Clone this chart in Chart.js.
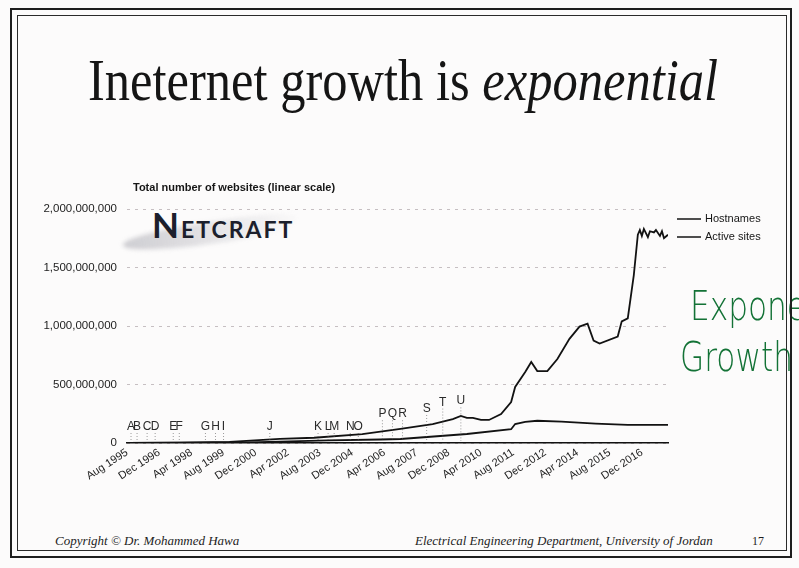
<!DOCTYPE html>
<html>
<head>
<meta charset="utf-8">
<title>Internet growth</title>
<script src="https://cdn.jsdelivr.net/npm/chart.js@4.4.1/dist/chart.umd.min.js"></script>
<style>
    html, body { margin: 0; padding: 0; }
    body {
        width: 799px; height: 568px; overflow: hidden; position: relative;
        background: #fcfbfb;
        font-family: "Liberation Sans", Arial, sans-serif;
    }
    .frame-outer { position: absolute; left: 10px; top: 8px; width: 778px; height: 546px; border: 2px solid #1e1e1e; z-index: 5; }
    .frame-inner { position: absolute; left: 17px; top: 15px; width: 768px; height: 534px; border: 1px solid #2a2a2a; z-index: 5; }
    #slideTitle {
        position: absolute; left: 88px; top: 50px; white-space: nowrap;
        font-family: "Liberation Serif", "DejaVu Serif", serif; font-size: 60px; line-height: 60px;
        color: #151515; transform-origin: 0 0;
    }
    #slideTitle i { font-style: italic; }
    .swoosh {
        position: absolute; left: 122px; top: 222px; width: 175px; height: 22px;
        background: linear-gradient(to right, rgba(150,150,160,0.45), rgba(205,205,210,0.05));
        border-radius: 50% 30% 50% 50%; transform: rotate(-8deg); filter: blur(2px);
    }
    .logo {
        position: absolute; left: 152px; top: 203px; font-family: Lato, "Liberation Sans", sans-serif;
        font-weight: bold; color: #1c1f2c; letter-spacing: 2px; white-space: nowrap;
    }
    .logo .big { font-size: 35px; }
    .logo .small { font-size: 23px; }
    #websitesChart { position: absolute; left: 0; top: 160px; z-index: 2; }
    .handwriting {
        position: absolute; font-family: "DejaVu Sans", sans-serif; font-weight: 200;
        color: #137236; font-size: 40px; white-space: nowrap; transform: scaleX(0.78); transform-origin: 0 0;
        z-index: 3;
    }
    .footer {
        position: absolute; top: 533px; font-family: "Liberation Serif", serif; font-style: italic;
        font-size: 13px; line-height: 16px; color: #1d1d1d; white-space: nowrap;
    }
</style>
</head>
<body>
<div class="frame-outer"></div>
<div class="frame-inner"></div>

<div id="slideTitle">Ineternet growth is <i>exponential</i></div>

<div class="swoosh"></div>
<div class="logo"><span class="big">N</span><span class="small">ETCRAFT</span></div>

<canvas id="websitesChart" width="799" height="323"></canvas>

<div class="handwriting" style="left:690px; top:283px;">Exponential</div>
<div class="handwriting" style="left:680px; top:334px;">Growth</div>

<div class="footer" style="left:55px;">Copyright © Dr. Mohammed Hawa</div>
<div class="footer" style="left:415px;">Electrical Engineering Department, University of Jordan</div>
<div class="footer" style="left:752px; font-style:normal; font-size:12px;">17</div>

<script>
// months counted from Aug 1995, values in millions
var hostMonths = [0, 26, 51, 76, 93, 117, 136, 152, 162, 166, 169, 172, 176, 180, 186, 191, 193, 198, 201, 204, 209, 214, 220, 225, 229, 232, 235, 244, 246, 249, 252, 254, 255, 256, 257, 259, 260, 262, 263, 265, 266, 267, 269];
var hostValues = [0, 2, 10, 35, 45, 75, 120, 162, 205, 231, 214, 214, 197, 197, 248, 350, 479, 607, 692, 615, 615, 718, 890, 995, 1020, 875, 850, 910, 1040, 1065, 1435, 1780, 1820, 1770, 1830, 1760, 1810, 1800, 1820, 1770, 1810, 1750, 1780];

var activeMonths = [0, 60, 76, 100, 126, 136, 169, 191, 193, 198, 204, 216, 233, 249, 269];
var activeValues = [0, 5, 12, 22, 30, 34, 77, 118, 162, 180, 190, 182, 165, 155, 155];

var tickMonths = [0, 16, 32, 48, 64, 80, 96, 112, 128, 144, 160, 176, 192, 208, 224, 240, 256];
var tickLabels = ['Aug 1995', 'Dec 1996', 'Apr 1998', 'Aug 1999', 'Dec 2000', 'Apr 2002', 'Aug 2003', 'Dec 2004', 'Apr 2006',
    'Aug 2007', 'Dec 2008', 'Apr 2010', 'Aug 2011', 'Dec 2012', 'Apr 2014', 'Aug 2015', 'Dec 2016'];

var yTicks = [0, 500, 1000, 1500, 2000];
var yTickLabels = ['0', '500,000,000', '1,000,000,000', '1,500,000,000', '2,000,000,000'];

var markerLetters = ['A', 'B', 'C', 'D', 'E', 'F', 'G', 'H', 'I', 'J', 'K', 'L', 'M', 'N', 'O', 'P', 'Q', 'R', 'S', 'T', 'U'];
var markerMonths = [2, 5, 10, 14, 23, 26, 39, 44, 48, 71, 95, 100, 103, 111, 115, 127, 132, 137, 149, 157, 166];
var markerLevels = [111, 111, 111, 111, 111, 111, 111, 111, 111, 111, 111, 111, 111, 111, 111, 220, 220, 220, 265, 320, 330];

var seriesNames = ['Hostnames', 'Active sites'];

// squeeze the slide heading into its box
var titleEl = document.getElementById('slideTitle');
titleEl.style.transform = 'scaleX(' + (630 / titleEl.offsetWidth) + ')';

function toPoints(months, values) {
    var pts = [];
    for (var i = 0; i < months.length; i++) {
        pts.push({x: months[i], y: values[i]});
    }
    return pts;
}

var chartExtras = {
    id: 'chartExtras',
    afterDatasetsDraw: function (chart) {
        var ctx = chart.ctx;
        var xs = chart.scales.x;
        var ys = chart.scales.y;
        var area = chart.chartArea;
        ctx.save();

        ctx.fillStyle = '#161616';
        ctx.font = 'bold 11px "Liberation Sans", Arial, sans-serif';
        ctx.textBaseline = 'middle';
        ctx.textAlign = 'left';
        ctx.fillText('Total number of websites (linear scale)', area.left + 6, area.top - 21);

        // event letters with their little dotted stems
        ctx.font = '12px "Liberation Sans", Arial, sans-serif';
        ctx.textAlign = 'center';
        ctx.textBaseline = 'alphabetic';
        for (var i = 0; i < markerLetters.length; i++) {
            var x = xs.getPixelForValue(markerMonths[i]);
            var y = ys.getPixelForValue(markerLevels[i]);
            ctx.fillStyle = '#2a2a2a';
            ctx.fillText(markerLetters[i], x, y);
            ctx.strokeStyle = 'rgba(90,90,90,0.6)';
            ctx.lineWidth = 1;
            ctx.setLineDash([1, 2]);
            ctx.beginPath();
            ctx.moveTo(x, y + 3);
            ctx.lineTo(x, area.bottom - 2);
            ctx.stroke();
        }
        ctx.setLineDash([]);

        // legend
        ctx.font = '11px "Liberation Sans", Arial, sans-serif';
        ctx.textAlign = 'left';
        ctx.textBaseline = 'middle';
        for (var j = 0; j < seriesNames.length; j++) {
            var ly = area.top + 10 + j * 18;
            ctx.strokeStyle = '#151515';
            ctx.lineWidth = 1.5;
            ctx.beginPath();
            ctx.moveTo(area.right + 9, ly);
            ctx.lineTo(area.right + 33, ly);
            ctx.stroke();
            ctx.fillStyle = '#151515';
            ctx.fillText(seriesNames[j], area.right + 37, ly);
        }
        ctx.restore();
    }
};

var ctx = document.getElementById('websitesChart');
var websitesChart = new Chart(ctx, {
    type: 'line',
    data: {
        datasets: [{
                label: seriesNames[0],
                data: toPoints(hostMonths, hostValues),
                borderColor: '#121212',
                borderWidth: 1.8,
                pointRadius: 0,
                tension: 0
            }, {
                label: seriesNames[1],
                data: toPoints(activeMonths, activeValues),
                borderColor: '#121212',
                borderWidth: 1.8,
                pointRadius: 0,
                tension: 0
            }]
    },
    options: {
        responsive: false,
        animation: false,
        layout: {padding: {top: 49, right: 131, left: 0, bottom: 0}},
        plugins: {
            legend: {display: false},
            tooltip: {enabled: false}
        },
        scales: {
            x: {
                type: 'linear',
                min: 0,
                max: 269,
                afterBuildTicks: function (scale) {
                    scale.ticks = tickMonths.map(function (v) { return {value: v}; });
                },
                afterFit: function (scale) { scale.height = 40; },
                grid: {display: false, drawTicks: false},
                border: {display: true, color: '#111', width: 1.6},
                ticks: {
                    autoSkip: false,
                    minRotation: 33,
                    maxRotation: 33,
                    padding: 3,
                    color: '#1e1e1e',
                    font: {size: 11, family: '"Liberation Sans", Arial, sans-serif'},
                    callback: function (v) { return tickLabels[tickMonths.indexOf(v)]; }
                }
            },
            y: {
                min: 0,
                max: 2000,
                afterBuildTicks: function (scale) {
                    scale.ticks = yTicks.map(function (v) { return {value: v}; });
                },
                afterFit: function (scale) { scale.width = 127; },
                grid: {color: 'rgba(175,165,170,0.7)', drawTicks: false},
                border: {display: false, dash: [3, 5]},
                ticks: {
                    padding: 10,
                    color: '#222',
                    font: {size: 11.5, family: '"Liberation Sans", Arial, sans-serif'},
                    callback: function (v) { return yTickLabels[yTicks.indexOf(v)]; }
                }
            }
        }
    },
    plugins: [chartExtras]
});
</script>
</body>
</html>
